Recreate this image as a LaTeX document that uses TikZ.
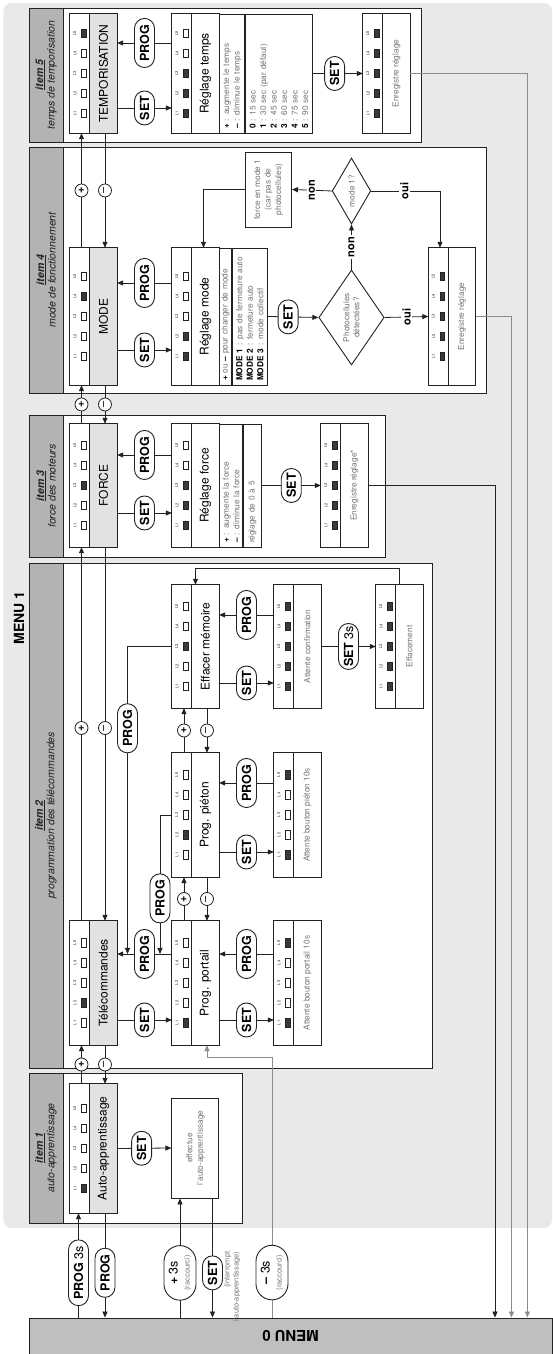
\documentclass[tikz,border=0pt]{standalone}
\usepackage{fontspec}
\setmainfont{TeX Gyre Heros}
\usepackage{tikz}
\usetikzlibrary{shapes.geometric, shapes.misc, arrows.meta, positioning, calc}
\definecolor{mnBg}{HTML}{E9E9E9}
\definecolor{mnStrip}{HTML}{B3B3B3}
\definecolor{mnBar}{HTML}{BFBFBF}
\definecolor{mnLabel}{HTML}{E2E2E2}
\definecolor{mnLed}{HTML}{3A3A3A}
\definecolor{mnInk}{HTML}{222222}
\definecolor{mnGrey}{HTML}{767676}
\definecolor{mnWire}{HTML}{8C8C8C}

% state box: LEDs L1..L5 on top, label below
\newcommand{\ledbox}[7]{%
  \node[boxarea, minimum width=#3] (#1) at #2 {};
  \fill[#4] (#1.south west) rectangle ($(#1.east)+(0,4)$);
  \draw[frame] (#1.south west) rectangle (#1.north east);
  \draw[frame] ($(#1.west)+(0,4)$) -- ($(#1.east)+(0,4)$);
  \foreach \i in {1,...,5}{
    \node[ledtag] (#1-tag\i) at ($(#1.north)+(\i*20-60,-5)$) {L\i};
    \node[ledoff] (#1-led\i) at ($(#1.north)+(\i*20-60,-14)$) {};
  }
  \foreach \i in {#5}{\node[ledon] (#1-on\i) at ($(#1.north)+(\i*20-60,-14)$) {};}
  \node[#6] (#1-t) at ($(#1.south)+(0,13.75)$) {#7};
}

\begin{document}
\begin{tikzpicture}[x=1pt, y=1pt, rotate=90, transform shape,
  frame/.style={draw=mnInk, line width=0.9pt},
  boxarea/.style={rectangle, minimum height=47, inner sep=0},
  ledoff/.style={rectangle, draw=mnInk, line width=0.6pt, fill=white, minimum width=8.5, minimum height=4.5, inner sep=0},
  ledon/.style={ledoff, fill=mnLed},
  ledtag/.style={font=\fontsize{4}{4}\selectfont, text=mnInk, inner sep=0},
  stlabel/.style={font=\fontsize{12}{14}\selectfont, text=black},
  stsmall/.style={font=\fontsize{8.3}{10}\selectfont, text=mnGrey, align=center},
  rowbox/.style={draw=mnInk, line width=0.9pt, fill=white, inner xsep=4, inner ysep=0, align=left,
                 font=\fontsize{8.3}{10.5}\selectfont, text=mnGrey},
  plainbox/.style={draw=mnInk, line width=0.9pt, fill=white, align=center, inner sep=2,
                   font=\fontsize{8.3}{10.5}\selectfont, text=mnGrey},
  choice/.style={diamond, draw=mnInk, line width=0.9pt, fill=white, inner sep=0, align=center,
                 font=\fontsize{8.3}{10}\selectfont, text=mnGrey},
  pill/.style={rounded rectangle, draw=mnInk, line width=0.9pt, fill=white, minimum width=44, minimum height=20,
               inner xsep=5, inner ysep=1, align=center, font=\bfseries\fontsize{12.5}{14}\selectfont},
  pm/.style={circle, draw=mnInk, line width=0.8pt, fill=white, minimum size=13, inner sep=0,
             font=\bfseries\fontsize{11}{11}\selectfont},
  yn/.style={fill=white, inner sep=1.5, font=\bfseries\fontsize{11}{12}\selectfont},
  arr/.style={-{Triangle[length=6pt,width=5pt]}, line width=0.8pt, draw=mnInk},
  rarr/.style={{Triangle[length=6pt,width=5pt]}-, line width=0.8pt, draw=mnInk},
  itembox/.style={draw=mnInk, line width=0.9pt, fill=white},
  itemhead/.style={align=center, font=\itshape\fontsize{10.5}{11.5}\selectfont, text=mnInk}
]
\useasboundingbox (0,0) rectangle (1354,552);
\fill[mnBg, rounded corners=8] (126,0) rectangle (1351,548.5);

\node[rotate=90, draw=mnInk, line width=0.9pt, fill=mnBar, minimum width=523, minimum height=36, inner sep=0,
      font=\bfseries\fontsize{15}{15}\selectfont] (menu0) at (18,261.5) {MENU 0};
\node[font=\bfseries\fontsize{14}{14}\selectfont] (menu1) at (736,533) {MENU 1};

% item frames with grey heading strip
\foreach \xa/\xb/\yb/\num/\what in {131/281/310/1/auto-apprentissage, 286/791/120/2/programmation des télécommandes,
    797/939/167/3/force des moteurs, 961/1207/66/4/mode de fonctionnement, 1212/1346/131/5/temps de temporisation}{
  \draw[itembox] (\xa,\yb) rectangle (\xb,523);
  \draw[frame, fill=mnStrip] (\xa,489) rectangle (\xb,523);
  \node[itemhead] (head\num) at ({(\xa+\xb)/2},506) {\textbf{\underline{item \num}}\\\what};
}

% top level states
\ledbox{auto}{(205.5,458.5)}{129}{mnLabel}{1}{stlabel}{Auto-apprentissage}
\ledbox{tel}{(371,458.5)}{124}{mnLabel}{2}{stlabel}{Télécommandes}
\ledbox{force}{(868.5,458.5)}{123}{mnLabel}{3}{stlabel}{FORCE}
\ledbox{mode}{(1037.5,458.5)}{137}{mnLabel}{4}{stlabel}{MODE}
\ledbox{tempo}{(1280.5,458.5)}{119}{mnLabel}{5}{stlabel}{TEMPORISATION}

\ledbox{portail}{(371,356.5)}{124}{white}{1}{stlabel}{Prog. portail}
\ledbox{pieton}{(539,356.5)}{124}{white}{2}{stlabel}{Prog. piéton}
\ledbox{effacer}{(707.5,356.5)}{123}{white}{3}{stlabel}{Effacer mémoire}
\ledbox{regf}{(868.5,356.5)}{123}{white}{1,2,3}{stlabel}{Réglage force}
\ledbox{regm}{(1037.5,356.5)}{137}{white}{1,2}{stlabel}{Réglage mode}
\ledbox{regt}{(1280.5,356.5)}{119}{white}{1,2,3}{stlabel}{Réglage temps}

\ledbox{attpor}{(371,254.5)}{124}{white}{1,5}{stsmall}{Attente bouton portail 10s}
\ledbox{attpie}{(539,254.5)}{124}{white}{1,5}{stsmall}{Attente bouton piéton 10s}
\ledbox{attconf}{(707.5,254.5)}{123}{white}{1,2,3,4,5}{stsmall}{Attente confirmation}
\ledbox{effac}{(707.5,152.5)}{123}{white}{1,2,3,4,5}{stsmall}{Effacement}
\ledbox{enrf}{(868.5,207.5)}{123}{white}{1,2,3,4,5}{stsmall}{Enregistre réglage*}
\ledbox{enrm}{(1037.5,100)}{137}{white}{1,2,3,4,5}{stsmall}{Enregistre réglage}
\ledbox{enrt}{(1280.5,165.5)}{119}{white}{1,2,3,4,5}{stsmall}{Enregistre réglage}

% extra rows of the setting boxes
\node[rowbox, text width=115, minimum height=23.2, below=0pt of regf] (regf1)
  {\textcolor{black}{\textbf{+}} : augmente la force\\\textcolor{black}{\textbf{–}} : diminue la force};
\node[rowbox, text width=115, minimum height=17.6, below=0pt of regf1] (regf2) {réglage de 0 à 5};
\node[rowbox, text width=129, minimum height=11.6, below=0pt of regm] (regm1)
  {\textcolor{black}{\textbf{+}} ou \textcolor{black}{\textbf{–}} pour changer de mode};
\node[rowbox, text width=129, minimum height=35.4, below=0pt of regm1] (regm2)
  {\textcolor{black}{\textbf{MODE 1}} : pas de fermeture auto\\\textcolor{black}{\textbf{MODE 2}} : fermeture auto\\\textcolor{black}{\textbf{MODE 3}} : mode collectif};
\node[rowbox, text width=111, minimum height=25, below=0pt of regt] (regt1)
  {\textcolor{black}{\textbf{+}} : augmente le temps\\\textcolor{black}{\textbf{–}} : diminue le temps};
\node[rowbox, text width=111, minimum height=66.6, below=0pt of regt1] (regt2)
  {\textcolor{black}{\textbf{0}} : 15 sec\\\textcolor{black}{\textbf{1}} : 30 sec (par défaut)\\\textcolor{black}{\textbf{2}} : 45 sec\\
   \textcolor{black}{\textbf{3}} : 60 sec\\\textcolor{black}{\textbf{4}} : 75 sec\\\textcolor{black}{\textbf{5}} : 90 sec};

\node[plainbox, minimum width=100, minimum height=47] (effect) at (206,356.6) {effectue\\l'auto-apprentissage};
\node[plainbox, minimum width=75, minimum height=46] (forcem) at (1164.5,283.5) {force en mode 1\\(car pas de\\photocellules)};
\node[choice, minimum width=95, minimum height=57] (photo) at (1036.5,200.5) {Photocellules\\détectées?};
\node[choice, minimum width=66, minimum height=37] (mode1) at (1163,200.5) {mode 1?};

% + to the next item, - back
\draw[arr] (auto.east |- 0,470.5) -- node[pm] (p12) {+} (tel.west |- 0,470.5);
\draw[arr] (tel.west |- 0,447) -- node[pm] (m12) {\mdseries –} (auto.east |- 0,447);
\draw[arr] (tel.east |- 0,470.5) -- node[pm, pos=0.516] (p23top) {+} (force.west |- 0,470.5);
\draw[arr] (force.west |- 0,447) -- node[pm, pos=0.484] (m23top) {\mdseries –} (tel.east |- 0,447);
\draw[arr] (force.east |- 0,470.5) -- node[pm] (p34top) {+} (mode.west |- 0,470.5);
\draw[arr] (mode.west |- 0,447) -- node[pm] (m34top) {\mdseries –} (force.east |- 0,447);
\draw[arr] (mode.east |- 0,470.5) -- node[pm] (p45top) {+} (tempo.west |- 0,470.5);
\draw[arr] (tempo.west |- 0,447) -- node[pm] (m45top) {\mdseries –} (mode.east |- 0,447);

% item 1 and MENU 0
\draw[arr] (auto.south) -- node[pill, pos=0.45] (set1) {SET} (effect.north);
\draw[rarr] (auto.west |- 0,473.5) -- node[pill, pos=0.571, minimum width=62] (prog3s) {PROG {\mdseries 3s}} (menu0.south |- 0,473.5);
\draw[arr] (auto.west |- 0,447) -- node[pill, pos=0.571] (progm0) {PROG} (menu0.south |- 0,447);
\draw[rarr] (effect.west |- 0,372) -- node[pill, pos=0.625, minimum width=52, minimum height=32] (plus3s)
  {+ {\mdseries 3s}\\[-2pt]{\mdseries\fontsize{7.5}{8}\selectfont\color{mnGrey}(raccourci)}} (menu0.south |- 0,372);
\draw[arr] (effect.west |- 0,339.5) -- node[pill, pos=0.625] (setint) {SET} (menu0.south |- 0,339.5);
\node[anchor=north east, inner sep=0.5, align=right, font=\fontsize{7.5}{9}\selectfont, text=mnGrey] (setnote)
  at ($(setint.south)+(22,-0.5)$) {(interrompt\\l'auto-apprentissage)};
\draw[arr, draw=mnWire] (menu0.south |- 0,280) -- node[pill, pos=0.173, minimum width=52, minimum height=32] (minus3s)
  {– {\mdseries 3s}\\[-2pt]{\mdseries\fontsize{7.5}{8}\selectfont\color{mnGrey}(raccourci)}} ++(260,0) |- (portail.west |- 0,345);

% item 2
\draw[arr] (tel.south -| 334,0) -- node[pill] (set2) {SET} (portail.north -| 334,0);
\draw[arr] (portail.north -| 400,0) -- node[pill] (prog2) {PROG} (tel.south -| 400,0);
\coordinate (joinpie) at (400,392);
\coordinate (joineff) at (400,424.5);
\draw[arr] (pieton.north) |- node[pill, pos=0.8] (progpie) {PROG} (joinpie);
\draw[arr] (effacer.north) |- node[pill, pos=0.633] (progeff) {PROG} (joineff);
\draw[arr] (portail.south -| 334,0) -- node[pill] (set2b) {SET} (attpor.north -| 334,0);
\draw[arr] (attpor.north -| 400,0) -- node[pill] (prog2b) {PROG} (portail.south -| 400,0);
\draw[arr] (pieton.south -| 502,0) -- node[pill] (set2c) {SET} (attpie.north -| 502,0);
\draw[arr] (attpie.north -| 571,0) -- node[pill] (prog2c) {PROG} (pieton.south -| 571,0);
\draw[arr] (effacer.south -| 671,0) -- node[pill] (set2d) {SET} (attconf.north -| 671,0);
\draw[arr] (attconf.north -| 739,0) -- node[pill] (prog2d) {PROG} (effacer.south -| 739,0);
\draw[arr] (attconf.south) -- node[pill, minimum width=56] (set3s) {SET {\mdseries 3s}} (effac.north);
\draw[arr] (effac.east) -- ++(16,0) |- (effacer.east);
\draw[arr] (portail.east |- 0,368) -- node[pm] (p23) {+} (pieton.west |- 0,368);
\draw[arr] (pieton.west |- 0,345) -- node[pm] (m23) {\mdseries –} (portail.east |- 0,345);
\draw[arr] (pieton.east |- 0,368) -- node[pm] (p34) {+} (effacer.west |- 0,368);
\draw[arr] (effacer.west |- 0,345) -- node[pm] (m34) {\mdseries –} (pieton.east |- 0,345);

% item 3
\draw[arr] (force.south -| 841,0) -- node[pill] (set3) {SET} (regf.north -| 841,0);
\draw[arr] (regf.north -| 899,0) -- node[pill] (prog3) {PROG} (force.south -| 899,0);
\draw[arr] (regf2.south) -- node[pill] (set3b) {SET} (enrf.north);
\draw[arr] (enrf.south) |- (menu0.south |- 0,57);

% item 4
\draw[arr] (mode.south -| 1004,0) -- node[pill] (set4) {SET} (regm.north -| 1004,0);
\draw[arr] (regm.north -| 1071,0) -- node[pill] (prog4) {PROG} (mode.south -| 1071,0);
\draw[arr] (regm2.south) -- node[pill, pos=0.4] (set4b) {SET} (photo.north);
\draw[arr] (photo.east) -- node[yn] (non1) {non} (mode1.west);
\draw[arr] (mode1.north) -- node[yn] (non2) {non} (forcem.south);
\draw[arr] (forcem.north) |- (regm.east |- 0,348.5);
\draw[arr] (mode1.south) |- node[yn, pos=0.24] (oui2) {oui} (enrm.east |- 0,112);
\draw[arr] (photo.south) -- node[yn] (oui1) {oui} (enrm.north);
\draw[arr, draw=mnWire] (enrm.south) |- (menu0.south |- 0,40.5);

% item 5
\draw[arr] (tempo.south -| 1246,0) -- node[pill] (set5) {SET} (regt.north -| 1246,0);
\draw[arr] (regt.north -| 1311,0) -- node[pill] (prog5) {PROG} (tempo.south -| 1311,0);
\draw[arr] (regt2.south) -- node[pill, pos=0.44] (set5b) {SET} (enrt.north);
\draw[arr, draw=mnWire] (enrt.south) |- (menu0.south |- 0,24.6);
\end{tikzpicture}
\end{document}
